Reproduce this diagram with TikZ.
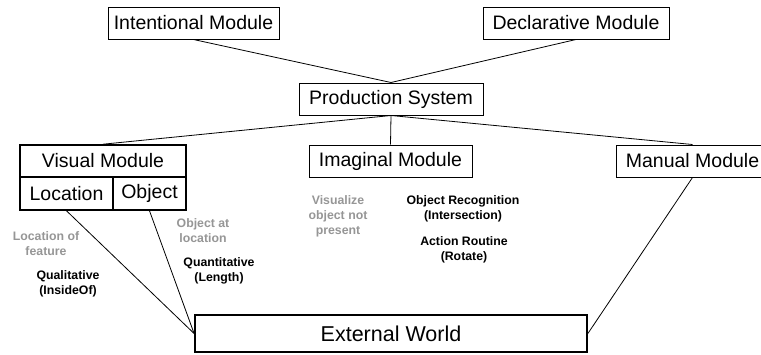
\documentclass[tikz,border=0pt]{standalone}
\usepackage{fontspec}
\setmainfont{Liberation Sans}
\definecolor{lblgrey}{RGB}{150,150,150}
\begin{document}
\begin{tikzpicture}[x=1pt,y=-1pt,
  modbox/.style={draw=black,line width=1pt,rectangle,inner sep=0pt,minimum height=32pt,font=\fontsize{19.5}{22}\selectfont},
  visbox/.style={modbox,line width=1.6pt},
  conn/.style={draw=black,line width=0.8pt},
  greylbl/.style={align=center,text=lblgrey,font=\fontsize{12.3}{15}\selectfont\bfseries,inner sep=0pt},
  blacklbl/.style={align=center,text=black,font=\fontsize{12.3}{15}\selectfont\bfseries,inner sep=0pt}]
\useasboundingbox (0,0) rectangle (761,354);
\begin{scope}
\clip (0,0) rectangle (761,354);
\node[modbox,minimum width=171pt] (int) at (193.5,23) {Intentional Module};
\node[modbox,minimum width=186pt] (dec) at (576,23) {Declarative Module};
\node[modbox,minimum width=184pt] (prod) at (391,99) {Production System};
\node[visbox,minimum width=166pt] (vis) at (103,161) {Visual Module};
\node[visbox,minimum width=93pt,minimum height=33pt] (loc) at (66.5,193.5) {Location};
\node[visbox,minimum width=73pt,minimum height=33pt] (obj) at (149.5,193.5) {Object};
\node[modbox,minimum width=163pt] (imag) at (390.5,161) {Imaginal Module};
\node[modbox,minimum width=153pt] (man) at (692.5,161) {Manual Module};
\node[draw=black,line width=1.8pt,rectangle,inner sep=0pt,minimum width=392pt,minimum height=37pt,font=\fontsize{21.5}{24}\selectfont] (ext) at (391,333.5) {External World};

\draw[conn] (int.south) -- (prod.north);
\draw[conn] (dec.south) -- (prod.north);
\draw[conn] (prod.south) -- (vis.north);
\draw[conn] (prod.south) -- (imag.north);
\draw[conn] (prod.south) -- (man.north);
\draw[conn] (loc.south) -- (ext.west);
\draw[conn] (obj.south) -- (ext.west);
\draw[conn] (man.south) -- (ext.east);

\node[greylbl] (locf) at (46,244) {Location of\\feature};
\node[blacklbl] (qual) at (68,283.5) {Qualitative\\(InsideOf)};
\node[greylbl] (objloc) at (203,231) {Object at\\location};
\node[blacklbl] (quant) at (219,271) {Quantitative\\(Length)};
\node[greylbl] (visu) at (338,216.5) {Visualize\\object not\\present};
\node[blacklbl] (objrec) at (463,208.5) {Object Recognition\\(Intersection)};
\node[blacklbl] (act) at (464,249.5) {Action Routine\\(Rotate)};
\end{scope}
\end{tikzpicture}
\end{document}
